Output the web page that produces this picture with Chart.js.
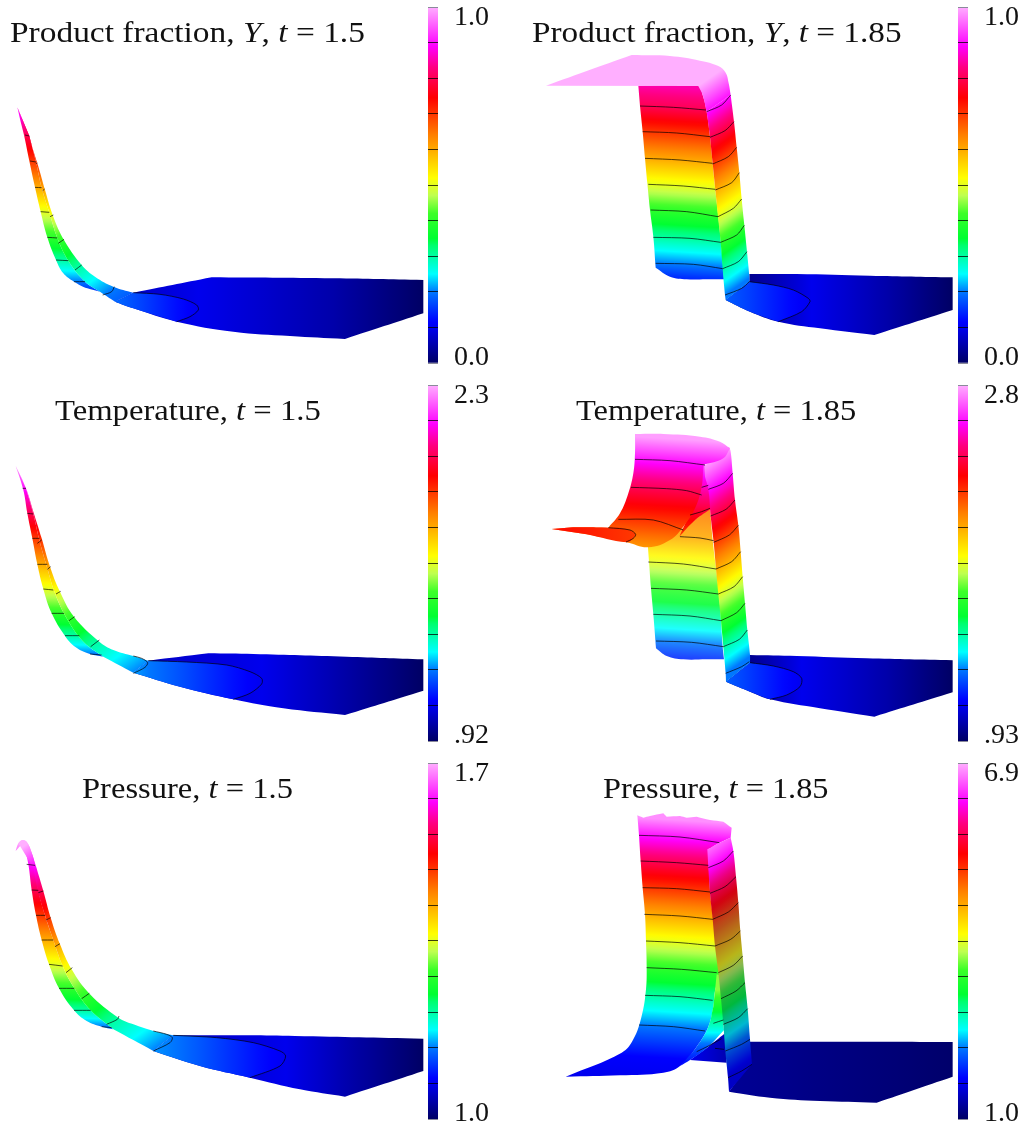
<!DOCTYPE html>
<html>
<head>
<meta charset="utf-8">
<title>Product fraction, temperature and pressure</title>
<script src="https://cdn.jsdelivr.net/npm/chart.js@4"></script>
<style>
  html, body { margin: 0; background: #fff; overflow: hidden; }
  #page { position: relative; width: 1023px; height: 1126px; overflow: hidden; }
  canvas { position: absolute; }
  .ttl { position: absolute; white-space: nowrap; color: #111; transform-origin: 0 0;
         font: 29px/32px "Liberation Serif", serif; }
</style>
</head>
<body>
<div id="page"></div>
<script>
// Titles and colour bars
const titles = [
  'Product fraction, <i>Y</i>, <i>t</i> = 1.5', 'Product fraction, <i>Y</i>, <i>t</i> = 1.85',
  'Temperature, <i>t</i> = 1.5', 'Temperature, <i>t</i> = 1.85',
  'Pressure, <i>t</i> = 1.5', 'Pressure, <i>t</i> = 1.85'
];
const barMin = [0, 0, 0.92, 0.93, 1.0, 1.0];
const barMax = [1, 1, 2.3, 2.8, 1.7, 6.9];
const barMinLabels = ['0.0', '0.0', '.92', '.93', '1.0', '1.0'];
const barMaxLabels = ['1.0', '1.0', '2.3', '2.8', '1.7', '6.9'];
const barTickLevels = [0, 0.1, 0.2, 0.3, 0.4, 0.5, 0.6, 0.7, 0.8, 0.9, 1];

// Colour map of the bars: level, then r g b
const mapLevels = [0, 0.1, 0.115, 0.2, 0.25, 0.33, 0.35, 0.42, 0.47, 0.52, 0.64, 0.745, 0.83, 0.89, 1];
const mapColors = [[0,0,100],[0,0,240],[0,0,255],[0,120,255],[0,255,255],[0,255,110],[0,255,50],[60,255,40],
  [190,255,80],[255,255,0],[255,128,0],[255,0,0],[255,0,128],[255,0,255],[255,175,255]];

// Keep a curve's two ends as hard corners when it is reused in an outline
function sharpEnds(curve) {
  return [[...curve[0], 1], ...curve.slice(1, -1), [...curve[curve.length - 1], 1]];
}

// Level lists are x,y,level on an iso line.
// ---- Product fraction, t = 1.5
const yA_back = [[52,322,1],[62,365],[72,405],[88,483],[105,562],[122,635],[142,712],[168,780],[190,820],[222,845],[262,865],[300,875,1],[255,845],[205,782],[172,714],[148,637],[125,563],[108,486],[88,408]];
const yA_backLevels = [[60,340,0.9],[72,405,0.8],[88,484,0.7],[105,562,0.6],[122,635,0.5],[142,712,0.4],[168,780,0.3],[222,845,0.2],[300,878,0.14]];
const yA_front = [[52,322,1],[82,400],[112,490],[135,570],[160,650],[192,720],[245,795],[285,830],[340,860],[400,878,1],[345,905,1],[300,875,1],[255,845],[205,782],[172,714],[148,637],[125,563],[108,486],[88,408]];
const yA_frontLevels = [[85,405,0.8],[108,492,0.7],[130,572,0.6],[155,650,0.5],[183,724,0.4],[235,802,0.3],[325,878,0.2],[400,878,0.18]];
const yA_fan = [[400,878,1],[635,832,1],[1000,835],[1270,840,1],[1270,940,1],[1035,1017,1],[870,1008],[700,995],[530,965],[400,925],[345,905,1]];
const yA_fanLevels = [[400,0,0.07],[595,0,0.098],[1000,0,0.05],[1270,0,0]];
const yA_curve = [[400,878],[480,883],[550,897],[590,915],[595,930],[570,950],[530,965]];
const yA_inner = [...sharpEnds(yA_curve), [400,925],[345,905,1]];
const yA_innerLevels = [[345,0,0.19],[595,0,0.1]];
const yA_lines = [yA_curve,
  [[75,405],[88,408]],[[90,483],[108,486]],[[105,562],[125,563]],[[122,635],[148,637]],[[142,712],[172,714]],[[168,780],[205,782]],[[222,845],[255,845]],
  [[108,492],[112,489]],[[128,572],[134,567]],[[150,650],[160,645]],[[175,730],[192,718]],[[225,810],[245,795]],[[308,885],[335,875],[343,860]]];

// ---- Product fraction, t = 1.85
const yB_plateau = [[78,257,1],[335,165,1],[450,168],[540,182],[595,198],[617,218],[626,250],[632,285,1],[560,335,1],[548,285],[535,258,1]];
const yB_wall = [[355,257,1],[535,258],[548,285],[560,335],[570,410],[578,490],[586,570],[595,650],[603,730],[610,805],[612,838,1],[560,838],[500,838],[450,830],[407,803,1],[400,710],[390,630],[382,550],[375,475],[368,395],[360,318]];
const yB_wallLevels = [[355,257,0.85],[360,318,0.8],[368,395,0.7],[375,475,0.6],[385,553,0.5],[392,630,0.4],[400,712,0.3],[407,790,0.2],[500,838,0.14]];
const yB_side = [[560,335,1],[632,285,1],[642,365],[650,442],[658,518],[665,597],[673,676],[681,755],[688,830],[688,845,1],[617,900,1],[615,885],[608,806],[602,727],[594,650],[586,570],[578,490],[570,410]];
const yB_sideLevels = [[560,240,1],[560,335,0.9],[570,412,0.8],[578,492,0.7],[586,570,0.6],[594,650,0.5],[602,727,0.4],[608,806,0.3],[615,885,0.2]];
const yB_fan = [[688,822,1],[830,822],[1050,827],[1298,832,1],[1298,930,1],[1063,1005,1],[900,985],[775,965],[690,935],[617,900,1],[688,845,1]];
const yB_fanLevels = [[690,0,0.03],[875,0,0.098],[1100,0,0.05],[1298,0,0]];
const yB_curve = [[688,845],[760,855],[820,870],[865,895],[870,905],[845,935],[775,965]];
const yB_inner = [...sharpEnds(yB_curve), [690,935],[617,900,1]];
const yB_innerLevels = [[620,0,0.18],[870,0,0.1]];
const yB_lines = [yB_curve,
  [[360,318],[460,322],[558,330]],[[368,395],[470,399],[570,410]],[[375,475],[480,480],[578,490]],[[385,553],[490,558],[586,568]],
  [[392,630],[500,635],[594,650]],[[400,712],[510,715],[602,727]],[[407,790],[520,793],[608,806]],
  [[560,335],[605,315],[632,285]],[[570,412],[615,392],[642,365]],[[578,492],[625,470],[650,442]],[[586,570],[635,548],[658,518]],
  [[594,650],[640,625],[665,597]],[[602,727],[650,705],[673,676]],[[608,806],[655,785],[681,755]],[[615,885],[665,865],[688,845]]];

// ---- Temperature, t = 1.5
const tA_back = [[47,257,1],[70,330],[82,400],[97,475],[112,553],[130,627],[155,700],[195,768],[225,800],[270,822],[310,830,1],[250,785],[200,715],[165,640],[142,565],[118,480],[100,402],[78,325]];
const tA_backLevels = [[47,270,0.97],[68,325,0.9],[82,400,0.8],[97,475,0.7],[112,553,0.6],[130,627,0.5],[155,700,0.4],[195,767,0.3],[270,822,0.2],[310,832,0.17]];
const tA_front = [[47,257,1],[78,325],[100,395],[125,475],[150,560],[180,635],[222,710],[298,785],[340,810],[400,828],[445,842,1],[400,878,1],[310,830,1],[250,785],[200,715],[165,640],[142,565],[118,480],[100,402],[78,325]];
const tA_frontLevels = [[75,325,0.9],[95,405,0.8],[118,485,0.7],[147,564,0.6],[175,638,0.5],[215,716,0.4],[285,790,0.3],[345,835,0.25],[425,870,0.2]];
const tA_fan = [[445,842,1],[625,820,1],[760,822],[1040,830],[1270,838,1],[1270,932,1],[1035,1005,1],[850,985],[700,958],[540,920],[400,878,1]];
const tA_fanLevels = [[445,0,0.07],[785,0,0.098],[1050,0,0.045],[1270,0,0]];
const tA_curve = [[445,842],[560,846],[680,855],[750,875],[785,895],[785,912],[750,940],[700,958]];
const tA_inner = [...sharpEnds(tA_curve), [540,920],[400,878,1]];
const tA_innerLevels = [[400,0,0.215],[445,0,0.2],[785,0,0.1]];
const tA_lines = [tA_curve,
  [[68,325],[78,325]],[[82,400],[100,402]],[[97,475],[118,475]],[[112,553],[142,553]],[[130,627],[160,630]],[[155,700],[192,700]],[[195,767],[238,767]],[[270,822],[305,825]],
  [[112,490],[125,480]],[[142,568],[152,560]],[[168,642],[182,634]],[[207,722],[224,710]],[[272,800],[298,780]],[[400,880],[435,862],[443,848],[425,835],[400,828]]];

// ---- Temperature, t = 1.85
const tB_rear = [[383,490,1],[480,450],[570,385,1],[578,480],[588,565],[597,640],[603,720],[608,800],[612,838,1],[560,838],[490,838],[440,828],[408,805,1],[400,703],[393,625],[387,545]];
const tB_rearLevels = [[570,385,0.65],[490,470,0.6],[385,546,0.5],[393,625,0.4],[400,703,0.3],[408,783,0.2],[490,838,0.14]];
const tB_under = [[545,255,1],[570,255,1],[580,340],[580,395,1],[570,388,1],[520,425],[478,470,1],[515,385],[535,320]];
const tB_underLevels = [[555,260,0.93],[560,350,0.83],[540,400,0.77],[500,445,0.72],[480,470,0.69]];
const tB_side = [[553,258,1],[627,200,1],[632,215],[638,280],[645,360],[655,436],[662,515],[668,590],[675,670],[682,750],[690,825],[690,848,1],[618,905,1],[617,880],[610,800],[603,722],[595,642],[588,567],[581,487],[572,408],[565,328],[555,290]];
const tB_sideLevels = [[565,240,1],[565,328,0.9],[572,408,0.8],[581,487,0.7],[588,567,0.6],[595,642,0.5],[603,722,0.4],[610,800,0.3],[617,880,0.2]];
const tB_plume = [[95,447,1],[170,442],[265,443,1],[300,400],[325,340],[340,280],[345,220],[345,162,1],[430,162],[540,170],[600,185],[630,205,1],[610,235],[550,255,1],[545,320],[525,385],[490,440],[450,480],[385,502],[320,487],[200,463]];
const tB_plumeLevels = [[345,170,0.99],[345,238,0.9],[335,322,0.8],[295,418,0.7],[385,502,0.62]];
const tB_tail = [[95,447,1],[170,442],[265,443],[310,445],[345,460],[340,475],[320,487],[200,463]];
const tB_tailLevels = [[95,0,0.74],[340,0,0.7]];
const tB_fan = [[690,825,1],[830,828],[1040,835],[1298,841,1],[1298,937,1],[1063,1010,1],[900,985],[750,958],[690,935],[618,905,1],[690,848,1]];
const tB_fanLevels = [[690,0,0.03],[845,0,0.098],[1100,0,0.05],[1298,0,0]];
const tB_curve = [[690,848],[760,858],[820,875],[845,895],[840,920],[800,945],[750,958]];
const tB_inner = [...sharpEnds(tB_curve), [690,935],[618,905,1]];
const tB_innerLevels = [[620,0,0.18],[845,0,0.1]];
const tB_lines = [tB_curve,
  [[345,238],[450,242],[555,255]],[[333,322],[440,326],[500,332],[545,345]],[[295,418],[400,420],[490,450]],[[265,443],[330,450],[347,463],[340,475],[318,486]],
  [[480,470],[540,474],[581,482]],[[385,546],[490,552],[588,567]],[[393,625],[500,630],[595,642]],[[400,703],[510,708],[603,722]],[[408,783],[515,787],[610,800]],
  [[565,328],[610,310],[638,280]],[[572,408],[618,388],[645,360]],[[581,487],[628,465],[655,436]],[[588,567],[635,545],[662,515]],
  [[595,642],[642,620],[668,590]],[[603,722],[650,698],[675,670]],[[610,800],[658,778],[682,750]],[[617,880],[665,860],[688,845]],
  [[510,405],[545,395],[570,385]],[[545,322],[565,316]]];

// ---- Pressure, t = 1.5
const pA_back = [[47,285,1],[55,262],[68,252],[82,260],[95,290],[105,328],[115,403],[135,478],[160,552],[188,630],[223,697],[272,763],[340,820,1],[305,812],[260,795],[222,763],[177,697],[147,625],[125,552],[108,478],[95,402],[85,325],[75,285],[65,265,1]];
const pA_backLevels = [[65,260,1],[85,325,0.9],[95,402,0.8],[108,478,0.7],[125,552,0.6],[147,625,0.5],[177,697,0.4],[222,763,0.3],[305,812,0.2]];
const pA_front = [[55,262],[68,252],[82,260],[95,290],[107,328],[130,405],[152,485],[180,565],[215,640],[270,715],[355,785],[400,805],[460,825],[520,838,1],[460,885,1],[340,820,1],[272,763],[223,697],[188,630],[160,552],[135,478],[115,410],[100,335]];
const pA_frontLevels = [[80,265,1],[100,330,0.9],[118,410,0.8],[142,490,0.7],[170,570,0.6],[205,645,0.5],[255,722,0.4],[335,800,0.3],[410,840,0.25],[480,875,0.2]];
const pA_fan = [[520,838,1],[745,838],[885,840],[1270,848,1],[1270,945,1],[1035,1022,1],[900,1000],[750,965],[600,930],[460,885,1]];
const pA_fanLevels = [[520,0,0.06],[857,0,0.098],[1050,0,0.05],[1270,0,0]];
const pA_curve = [[520,838],[650,845],[760,860],[840,885],[857,900],[840,930],[750,965]];
const pA_inner = [...sharpEnds(pA_curve), [600,930],[460,885,1]];
const pA_innerLevels = [[460,0,0.21],[517,0,0.2],[857,0,0.1]];
const pA_lines = [pA_curve,
  [[80,325],[105,328]],[[95,402],[115,403]],[[108,478],[135,478]],[[125,552],[160,552]],[[147,625],[188,630]],[[177,697],[223,697]],[[222,763],[272,763]],[[305,812],[335,815]],
  [[115,410],[130,405]],[[138,492],[152,485]],[[165,572],[180,563]],[[198,650],[217,635]],[[245,728],[268,712]],[[320,805],[352,790],[357,780]],
  [[460,885],[510,860],[517,845],[500,835],[460,825]]];

// ---- Pressure, t = 1.85
const pB_fan = [[690,857,1],[1100,857],[1298,858,1],[1298,962,1],[1070,1040,1],[900,1035],[750,1025],[627,1007,1],[690,920,1]];
const pB_fanLevels = [[627,0,0.035],[1298,0,0.005]];
const pB_rear = [[510,912,1],[565,872],[615,832,1],[620,920,1]];
const pB_rearLevels = [[510,0,0.1],[620,0,0.055]];
const pB_plume = [[352,178,1],[370,185,1],[390,180,1],[430,172,1],[440,182,1],[480,180,1],[500,185,1],[530,182,1],[570,192,1],[610,197,1],[635,215,1],[632,245,1],[598,260,1],[565,280,1],[570,405],[580,490],[590,570],[600,650],[585,705],[580,752],[565,812],[530,872],[480,930],[430,950],[300,958],[137,962,1],[305,890],[340,850],[365,780],[378,700],[380,630],[378,555],[375,475],[368,395],[362,315],[357,238]];
const pB_plumeLevels = [[352,185,0.98],[357,238,0.9],[362,315,0.8],[368,395,0.7],[373,475,0.6],[378,555,0.5],[380,635,0.4],[375,718,0.3],[357,807,0.2],[340,900,0.115],[300,958,0.1]];
const pB_under = [[590,655,1],[610,660,1],[610,805],[612,822,1],[565,872],[510,912],[480,930,1],[530,872],[565,812],[580,752]];
const pB_underLevels = [[595,702,0.45],[595,760,0.36],[575,830,0.25],[530,880,0.17],[490,925,0.12]];
const pB_side = [[562,280,1],[598,260,1],[632,245,1],[640,285],[648,362],[655,440],[661,525],[668,600],[675,680],[683,758],[690,850],[696,925,1],[627,1007,1],[624,965],[616,885],[610,805],[603,728],[595,650],[585,570],[578,490],[570,412],[565,335]];
const pB_sideLevels = [[565,240,1],[565,335,0.9],[570,412,0.8],[578,490,0.7],[585,570,0.6],[595,650,0.5],[603,728,0.4],[610,805,0.3],[616,885,0.2],[624,965,0.1]];
const pB_lines = [
  [[357,238],[480,243],[598,260]],[[362,315],[470,320],[565,328]],[[368,395],[470,398],[570,408]],[[373,475],[480,480],[578,490]],
  [[378,555],[480,560],[585,570]],[[380,635],[485,640],[590,650]],[[375,718],[480,722],[578,733]],[[357,807],[460,812],[555,825]],
  [[565,335],[610,315],[640,285]],[[570,412],[615,392],[648,362]],[[578,490],[625,468],[655,440]],[[585,570],[632,550],[661,525]],
  [[595,650],[640,628],[668,600]],[[603,728],[648,705],[675,680]],[[610,805],[655,785],[683,758]],[[616,885],[665,865],[690,850]],[[624,965],[665,945],[696,925]],
  [[580,802],[610,792]],[[530,887],[565,870],[605,848]],[[585,877],[612,880]]];

// panel places on the page, reading units are 3 per pixel
const panelLeft = [0, 520, 0, 520, 0, 520];
const panelTop = [0, 0, 380, 380, 756, 756];
const panelWidth = [500, 503, 500, 503, 500, 503];
const panelHeight = [375, 375, 370, 370, 370, 370];
const barLeft = [428, 958, 428, 958, 428, 958];
const barTop = [7, 7, 385, 385, 763, 763];
const titleLeft = [10, 532, 55, 576, 82, 603];
const titleWidth = [355, 369, 266, 280, 211, 225];
const titleTop = [16, 16, 394, 394, 772, 772];

const WASH_WHITE = [255, 255, 255, 0.12];
const WASH_NAVY = [0, 0, 90, 0.28];

// back to front
const panelSheets = [
  [ [yA_back, yA_backLevels, 'y', 0.03], [yA_fan, yA_fanLevels, 'x', 0], [yA_inner, yA_innerLevels, 'x', 0], [yA_front, yA_frontLevels, 'y', -0.7] ],
  [ [yB_wall, yB_wallLevels, 'y', 0.06], [yB_fan, yB_fanLevels, 'x', 0], [yB_inner, yB_innerLevels, 'x', 0], [yB_side, yB_sideLevels, 'y', -0.7], [yB_plateau, yB_sideLevels, 'y', -0.7] ],
  [ [tA_back, tA_backLevels, 'y', 0.03], [tA_fan, tA_fanLevels, 'x', 0], [tA_inner, tA_innerLevels, 'x', 0], [tA_front, tA_frontLevels, 'y', -0.7] ],
  [ [tB_fan, tB_fanLevels, 'x', 0], [tB_inner, tB_innerLevels, 'x', 0], [tB_rear, tB_rearLevels, 'y', 0.06, WASH_WHITE], [tB_under, tB_underLevels, 'y', 0], [tB_side, tB_sideLevels, 'y', -0.7], [tB_plume, tB_plumeLevels, 'y', 0.06], [tB_tail, tB_tailLevels, 'x', 0] ],
  [ [pA_back, pA_backLevels, 'y', 0.03], [pA_fan, pA_fanLevels, 'x', 0], [pA_inner, pA_innerLevels, 'x', 0], [pA_front, pA_frontLevels, 'y', -0.7] ],
  [ [pB_fan, pB_fanLevels, 'x', 0], [pB_rear, pB_rearLevels, 'x', 0], [pB_plume, pB_plumeLevels, 'y', 0.06], [pB_under, pB_underLevels, 'y', 0], [pB_side, pB_sideLevels, 'y', -0.7, WASH_NAVY] ]
];
const panelLines = [yA_lines, yB_lines, tA_lines, tB_lines, pA_lines, pB_lines];

const page = document.getElementById('page');

// colour of a level 0..1, the wash (speckled parts of the picture) fades out towards the top levels
function mapColor(level, wash) {
  const v = Math.max(0, Math.min(1, level));
  let i = 0;
  while (i < mapLevels.length - 2 && v > mapLevels[i + 1]) i++;
  const f = (v - mapLevels[i]) / (mapLevels[i + 1] - mapLevels[i]);
  let c = mapColors[i].map((a, k) => a + (mapColors[i + 1][k] - a) * f);
  if (wash) {
    const amount = wash[3] * Math.min(1, Math.max(0, (0.9 - v) / 0.25));
    c = c.map((a, k) => a + (wash[k] - a) * amount);
  }
  return `rgb(${c.map(Math.round).join(',')})`;
}

// linear gradient whose iso lines are tilted: y = p + tilt * x (or x = p + tilt * y)
function sheetGradient(chart, levels, axis, tilt, wash) {
  const sx = chart.scales.x, sy = chart.scales.y;
  const stops = levels.map(l => ({
    p: axis === 'y' ? l[1] - tilt * l[0] : l[0] - tilt * l[1],
    level: l[2]
  })).sort((a, b) => a.p - b.p);
  const pMin = stops[0].p, pMax = stops[stops.length - 1].p;
  const k = (pMax - pMin) / (1 + tilt * tilt);
  const from = axis === 'y' ? [0, pMin] : [pMin, 0];
  const to = axis === 'y' ? [-tilt * k, pMin + k] : [pMin + k, -tilt * k];
  const g = chart.ctx.createLinearGradient(
    sx.getPixelForValue(from[0]), sy.getPixelForValue(from[1]),
    sx.getPixelForValue(to[0]), sy.getPixelForValue(to[1]));
  for (let i = 0; i < stops.length - 1; i++) {
    for (let n = 0; n <= 8; n++) {
      const t = n / 8;
      const p = stops[i].p + (stops[i + 1].p - stops[i].p) * t;
      g.addColorStop((p - pMin) / (pMax - pMin), mapColor(stops[i].level + (stops[i + 1].level - stops[i].level) * t, wash));
    }
  }
  return g;
}

function addCanvas(left, top, width, height) {
  const c = document.createElement('canvas');
  c.width = width;
  c.height = height;
  c.style.left = left + 'px';
  c.style.top = top + 'px';
  c.style.width = width + 'px';
  c.style.height = height + 'px';
  page.appendChild(c);
  return c;
}

// a hard corner is the point given twice, the spline then does not round it
function toPoints(pairs) {
  return pairs.flatMap(p => p[2] ? [{ x: p[0], y: p[1] }, { x: p[0], y: p[1] }] : [{ x: p[0], y: p[1] }]);
}

function drawSurface(i) {
  const sheets = panelSheets[i];
  const datasets = sheets.map((s, n) => ({
    data: toPoints(s[0]),
    showLine: true,
    fill: 'shape',
    order: 1000 - n,
    tension: 0.4,
    borderWidth: 0,
    pointRadius: 0,
    backgroundColor: ctx => ctx.chart.chartArea ? sheetGradient(ctx.chart, s[1], s[2], s[3], s[4]) : '#00f'
  }));
  panelLines[i].forEach(line => {
    datasets.push({
      data: toPoints(line),
      showLine: true,
      fill: false,
      order: 0,
      tension: 0.3,
      borderWidth: 0.8,
      borderColor: 'rgba(0,0,0,0.85)',
      pointRadius: 0
    });
  });
  new Chart(addCanvas(panelLeft[i], panelTop[i], panelWidth[i], panelHeight[i]), {
    type: 'scatter',
    data: { datasets },
    options: {
      responsive: false,
      animation: false,
      layout: { padding: 0 },
      plugins: { legend: { display: false }, tooltip: { enabled: false } },
      scales: {
        x: { type: 'linear', display: false, min: 0, max: panelWidth[i] * 3 },
        y: { type: 'linear', display: false, reverse: true, min: 0, max: panelHeight[i] * 3 }
      }
    }
  });
}

function drawBar(i) {
  const lo = barMin[i], hi = barMax[i];
  const span = hi - lo;
  const PAD = 6;
  new Chart(addCanvas(barLeft[i], barTop[i] - PAD, 72, 356 + PAD * 2), {
    type: 'bar',
    data: {
      labels: [titles[i]],
      datasets: [{
        data: [[lo, hi]],
        barPercentage: 1,
        categoryPercentage: 1,
        yAxisID: 'y',
        backgroundColor: ctx => {
          const area = ctx.chart.chartArea;
          if (!area) return '#00f';
          const g = ctx.chart.ctx.createLinearGradient(0, area.bottom, 0, area.top);
          mapLevels.forEach(l => g.addColorStop(l, mapColor(l)));
          return g;
        }
      }]
    },
    options: {
      responsive: false,
      animation: false,
      layout: { padding: { top: PAD, bottom: PAD } },
      plugins: { legend: { display: false }, tooltip: { enabled: false } },
      scales: {
        x: { display: false },
        y: {
          position: 'right', min: lo, max: hi,
          border: { display: false },
          grid: {
            z: 1, drawTicks: false, lineWidth: 1,
            color: c => (c.index === 0 || c.index === 10) ? '#8a8a9a' : 'rgba(0,0,0,0.75)'
          },
          ticks: { display: false },
          afterBuildTicks: a => { a.ticks = barTickLevels.map(l => ({ value: lo + span * l })); },
          afterFit: a => { a.width = 0; a.paddingTop = 0; a.paddingBottom = 0; }
        },
        labels: {
          position: 'right', min: lo, max: hi,
          border: { display: false },
          grid: { display: false, drawTicks: false },
          ticks: {
            autoSkip: false, padding: 16, color: '#111',
            font: { family: '"Liberation Serif", serif', size: 28 },
            callback: (v, n) => n === 0 ? barMinLabels[i] : barMaxLabels[i]
          },
          afterBuildTicks: a => { a.ticks = [{ value: lo + span * 0.016 }, { value: hi - span * 0.03 }]; },
          afterFit: a => { a.width = 62; a.paddingTop = 0; a.paddingBottom = 0; }
        }
      }
    }
  });
}

function addTitle(i) {
  const d = document.createElement('div');
  d.className = 'ttl';
  d.innerHTML = titles[i];
  d.style.left = titleLeft[i] + 'px';
  d.style.top = titleTop[i] + 'px';
  page.appendChild(d);
  d.style.transform = `scaleX(${titleWidth[i] / d.offsetWidth})`;
}

titles.forEach((t, i) => {
  drawSurface(i);
  drawBar(i);
  addTitle(i);
});
</script>
</body>
</html>
